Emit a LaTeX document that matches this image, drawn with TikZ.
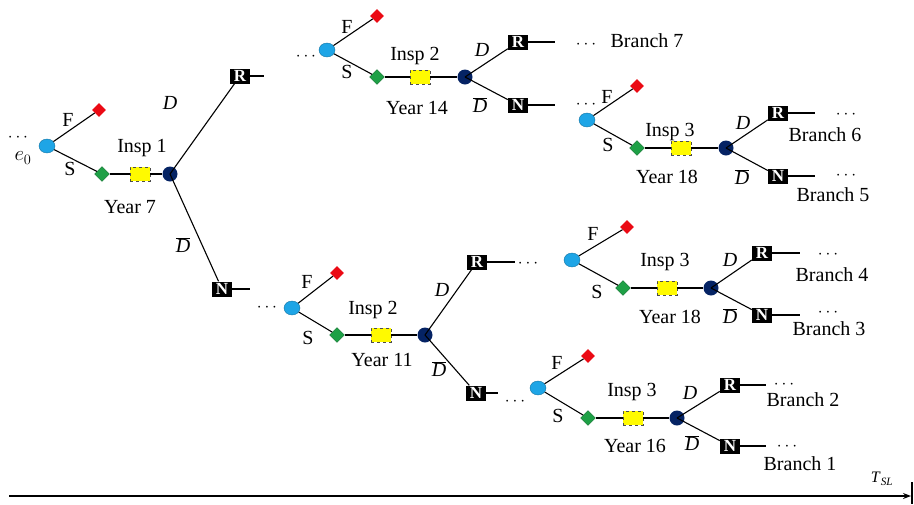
\documentclass[tikz,border=0pt]{standalone}
\usepackage{fontspec}
\setmainfont{Liberation Serif}
\usetikzlibrary{shapes.geometric,arrows.meta}
\definecolor{lblue}{RGB}{30,165,230}
\definecolor{dnavy}{RGB}{5,35,100}
\definecolor{fred}{RGB}{235,10,20}
\definecolor{sgreen}{RGB}{30,160,70}
\definecolor{iyel}{RGB}{255,250,0}
\tikzset{
  every node/.style={font=\fontsize{20}{22}\selectfont},
  dec/.style={ellipse,fill=lblue,draw=lblue!70!black,line width=0.4pt,minimum width=16pt,minimum height=14pt,inner sep=0pt},
  failn/.style={diamond,fill=fred,minimum size=14pt,inner sep=0pt},
  succn/.style={diamond,fill=sgreen,draw=sgreen!70!black,line width=0.3pt,minimum size=15pt,inner sep=0pt},
  inspn/.style={rectangle,fill=iyel,draw=black!70,dashed,line width=0.6pt,minimum width=20pt,minimum height=14pt,inner sep=0pt},
  chn/.style={circle,fill=dnavy,minimum size=15pt,inner sep=0pt},
  rbox/.style={rectangle,fill=black,text=white,minimum width=20pt,minimum height=15pt,inner sep=0pt,font=\fontsize{17}{17}\selectfont\bfseries},
  lbl/.style={inner sep=0pt},
  dotsn/.style={inner sep=0pt,font=\fontsize{18}{18}\selectfont},
  ln/.style={line width=1.1pt,black},
}
\begin{document}
\begin{tikzpicture}[x=1pt,y=-1pt]
\useasboundingbox (0,0) rectangle (914,504);
% ---- subtree A (Year 7)
\node[dec] (a0) at (47,146) {};
\node[failn] (aF) at (99,110) {};
\node[succn] (aS) at (102,174) {};
\node[inspn] (aI) at (140,174) {};
\node[chn] (aC) at (170,174) {};
\node[rbox] (aR) at (240,76) {R};
\node[rbox] (aN) at (222,289) {N};
\coordinate (aRe) at (264,76);
\coordinate (aNe) at (250,289);
\draw[ln] (a0) -- (aF); \draw[ln] (a0) -- (aS);
\draw[ln] (aS) -- (aI) -- (aC);
\draw[ln] (aC.center) -- (aR); \draw[ln] (aC.center) -- (aN);
\draw[ln] (aR) -- (aRe); \draw[ln] (aN) -- (aNe);
\node[dotsn] (adots) at (18,138) {$\cdots$};
\node[lbl] (ae0) at (23,158) {$e_0$};
\node[lbl] (aFl) at (68,120) {F};
\node[lbl] (aSl) at (70,169) {S};
\node[lbl] (aIl) at (142,148) {Insp 1};
\node[lbl] (aY) at (130,207) {Year 7};
\node[lbl] (aD) at (170,103) {\textit{D}};
\node[lbl] (aDb) at (183,245) {$\overline{\textit{D}}$};
% ---- subtree B (Year 14)
\node[dec] (b0) at (327,50) {};
\node[failn] (bF) at (377,16) {};
\node[succn] (bS) at (377,77) {};
\node[inspn] (bI) at (420,77) {};
\node[chn] (bC) at (465,77) {};
\node[rbox] (bR) at (518,42) {R};
\node[rbox] (bN) at (518,105) {N};
\coordinate (bRe) at (555,42);
\coordinate (bNe) at (555,105);
\draw[ln] (b0) -- (bF); \draw[ln] (b0) -- (bS);
\draw[ln] (bS) -- (bI) -- (bC);
\draw[ln] (bC.center) -- (bR); \draw[ln] (bC.center) -- (bN);
\draw[ln] (bR) -- (bRe); \draw[ln] (bN) -- (bNe);
\node[dotsn] (bdots) at (306,57) {$\cdots$};
\node[lbl] (bFl) at (347,27) {F};
\node[lbl] (bSl) at (347,72) {S};
\node[lbl] (bIl) at (415,56) {Insp 2};
\node[lbl] (bY) at (417,108) {Year 14};
\node[lbl] (bD) at (482,50) {\textit{D}};
\node[lbl] (bDb) at (480,105) {$\overline{\textit{D}}$};
\node[dotsn] (bdots2) at (586,45) {$\cdots$};
\node[lbl] (bB) at (647,41) {Branch 7};
% ---- subtree C (Year 18, top)
\node[dec] (c0) at (587,120) {};
\node[failn] (cF) at (637,86) {};
\node[succn] (cS) at (637,148) {};
\node[inspn] (cI) at (681,148) {};
\node[chn] (cC) at (726,148) {};
\node[rbox] (cR) at (778,113) {R};
\node[rbox] (cN) at (778,176) {N};
\coordinate (cRe) at (815,113);
\coordinate (cNe) at (815,176);
\draw[ln] (c0) -- (cF); \draw[ln] (c0) -- (cS);
\draw[ln] (cS) -- (cI) -- (cC);
\draw[ln] (cC.center) -- (cR); \draw[ln] (cC.center) -- (cN);
\draw[ln] (cR) -- (cRe); \draw[ln] (cN) -- (cNe);
\node[dotsn] (cdots) at (586,105) {$\cdots$};
\node[lbl] (cFl) at (607,97) {F};
\node[lbl] (cSl) at (608,145) {S};
\node[lbl] (cIl) at (670,132) {Insp 3};
\node[lbl] (cY) at (667,177) {Year 18};
\node[lbl] (cD) at (743,123) {\textit{D}};
\node[lbl] (cDb) at (742,177) {$\overline{\textit{D}}$};
\node[dotsn] (cdots2) at (846,115) {$\cdots$};
\node[lbl] (cB6) at (825,135) {Branch 6};
\node[dotsn] (cdots3) at (846,176) {$\cdots$};
\node[lbl] (cB5) at (833,195) {Branch 5};
% ---- subtree D (Year 11)
\node[dec] (d0) at (292,308) {};
\node[failn] (dF) at (337,273) {};
\node[succn] (dS) at (337,335) {};
\node[inspn] (dI) at (381,335) {};
\node[chn] (dC) at (425,335) {};
\node[rbox] (dR) at (477,262) {R};
\node[rbox] (dN) at (476,393) {N};
\coordinate (dRe) at (515,262);
\coordinate (dNe) at (498,393);
\draw[ln] (d0) -- (dF); \draw[ln] (d0) -- (dS);
\draw[ln] (dS) -- (dI) -- (dC);
\draw[ln] (dC.center) -- (dR); \draw[ln] (dC.center) -- (dN);
\draw[ln] (dR) -- (dRe); \draw[ln] (dN) -- (dNe);
\node[dotsn] (ddots) at (267,308) {$\cdots$};
\node[lbl] (dFl) at (307,282) {F};
\node[lbl] (dSl) at (308,338) {S};
\node[lbl] (dIl) at (373,310) {Insp 2};
\node[lbl] (dY) at (382,360) {Year 11};
\node[lbl] (dD) at (442,290) {\textit{D}};
\node[lbl] (dDb) at (439,369) {$\overline{\textit{D}}$};
\node[dotsn] (ddots2) at (528,264) {$\cdots$};
\node[dotsn] (ddots3) at (515,402) {$\cdots$};
% ---- subtree E (Year 18, middle)
\node[dec] (e0) at (572,260) {};
\node[failn] (eF) at (627,227) {};
\node[succn] (eS) at (623,288) {};
\node[inspn] (eI) at (667,288) {};
\node[chn] (eC) at (711,288) {};
\node[rbox] (eR) at (762,253) {R};
\node[rbox] (eN) at (762,315) {N};
\coordinate (eRe) at (800,253);
\coordinate (eNe) at (800,315);
\draw[ln] (e0) -- (eF); \draw[ln] (e0) -- (eS);
\draw[ln] (eS) -- (eI) -- (eC);
\draw[ln] (eC.center) -- (eR); \draw[ln] (eC.center) -- (eN);
\draw[ln] (eR) -- (eRe); \draw[ln] (eN) -- (eNe);
\node[lbl] (eFl) at (593,234) {F};
\node[lbl] (eSl) at (597,292) {S};
\node[lbl] (eIl) at (665,262) {Insp 3};
\node[lbl] (eY) at (670,317) {Year 18};
\node[lbl] (eD) at (730,260) {\textit{D}};
\node[lbl] (eDb) at (730,316) {$\overline{\textit{D}}$};
\node[dotsn] (edots) at (828,255) {$\cdots$};
\node[lbl] (eB4) at (832,275) {Branch 4};
\node[dotsn] (edots2) at (828,313) {$\cdots$};
\node[lbl] (eB3) at (829,329) {Branch 3};
% ---- subtree F (Year 16)
\node[dec] (f0) at (538,388) {};
\node[failn] (fF) at (588,356) {};
\node[succn] (fS) at (588,418) {};
\node[inspn] (fI) at (633,418) {};
\node[chn] (fC) at (677,418) {};
\node[rbox] (fR) at (730,385) {R};
\node[rbox] (fN) at (730,446) {N};
\coordinate (fRe) at (766,385);
\coordinate (fNe) at (766,446);
\draw[ln] (f0) -- (fF); \draw[ln] (f0) -- (fS);
\draw[ln] (fS) -- (fI) -- (fC);
\draw[ln] (fC.center) -- (fR); \draw[ln] (fC.center) -- (fN);
\draw[ln] (fR) -- (fRe); \draw[ln] (fN) -- (fNe);
\node[lbl] (fFl) at (557,363) {F};
\node[lbl] (fSl) at (558,416) {S};
\node[lbl] (fIl) at (632,392) {Insp 3};
\node[lbl] (fY) at (635,446) {Year 16};
\node[lbl] (fD) at (690,393) {\textit{D}};
\node[lbl] (fDb) at (692,443) {$\overline{\textit{D}}$};
\node[dotsn] (fdots) at (784,385) {$\cdots$};
\node[lbl] (fB2) at (803,400) {Branch 2};
\node[dotsn] (fdots2) at (787,447) {$\cdots$};
\node[lbl] (fB1) at (800,464) {Branch 1};
% ---- time axis
\coordinate (ax0) at (9,496);
\coordinate (ax1) at (911,496);
\coordinate (tk0) at (912,482);
\coordinate (tk1) at (912,504);
\draw[line width=1.3pt,-{Stealth[length=8pt,width=6pt]}] (ax0) -- (ax1);
\draw[line width=1.1pt] (tk0) -- (tk1);
\node[lbl,font=\fontsize{16}{16}\selectfont] (tsl) at (882,479) {\textit{T}\textsubscript{\textit{SL}}};
\end{tikzpicture}
\end{document}
